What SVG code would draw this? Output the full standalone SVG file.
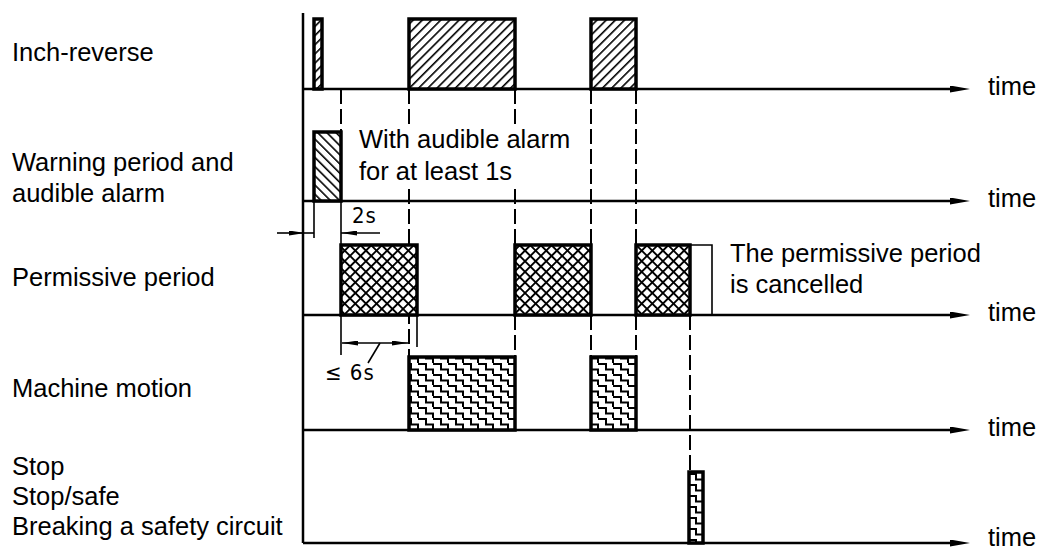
<svg xmlns="http://www.w3.org/2000/svg" width="1039" height="547" viewBox="0 0 1039 547">
<style>
.lbl{font-family:"Liberation Sans",Arial,sans-serif;font-size:25.5px;fill:#000}
.dimt{font-family:"Liberation Sans Narrow","DejaVu Sans Condensed","Liberation Sans",sans-serif;font-size:22px;fill:#000;letter-spacing:1px}
.axis{stroke:#000;stroke-width:2.5;fill:none}
.box{stroke:#000;stroke-width:3.5}
.dash{stroke:#000;stroke-width:2;stroke-dasharray:15 5;fill:none}
.thin{stroke:#000;stroke-width:1.6;fill:none}
</style>
<defs>
<pattern id="hatchF" patternUnits="userSpaceOnUse" width="6.5" height="6.5" patternTransform="rotate(45)">
<rect width="6.5" height="6.5" fill="#fff"/><rect x="0" y="0" width="1.6" height="6.5" fill="#000"/>
</pattern>
<pattern id="hatchB" patternUnits="userSpaceOnUse" width="6.5" height="6.5" patternTransform="rotate(-45)">
<rect width="6.5" height="6.5" fill="#fff"/><rect x="0" y="0" width="1.6" height="6.5" fill="#000"/>
</pattern>
<pattern id="cross" patternUnits="userSpaceOnUse" width="7.5" height="7.5" patternTransform="rotate(45)">
<rect width="7.5" height="7.5" fill="#fff"/><rect x="0" y="0" width="1.9" height="7.5" fill="#000"/><rect x="0" y="0" width="7.5" height="1.9" fill="#000"/>
</pattern>
<pattern id="stairs" patternUnits="userSpaceOnUse" width="15" height="11">
<rect width="15" height="11" fill="#fff"/>
<path d="M-2,1 H6 V6.5 H13 V12" stroke="#000" stroke-width="2" fill="none"/>
<path d="M13,1 H17" stroke="#000" stroke-width="2" fill="none"/>
</pattern>
<marker id="axarr" markerUnits="userSpaceOnUse" viewBox="0 0 20 7" markerWidth="20" markerHeight="7" refX="0" refY="3.5" orient="auto">
<path d="M0,0 L20,3.5 L0,7 z" fill="#000"/>
</marker>
<marker id="dimarr" markerUnits="userSpaceOnUse" viewBox="0 0 16 5" markerWidth="16" markerHeight="5" refX="16" refY="2.5" orient="auto-start-reverse">
<path d="M0,0 L16,2.5 L0,5 z" fill="#000"/>
</marker>
</defs>
<rect width="1039" height="547" fill="#fff"/>

<g id="labels">
<text class="lbl" x="12" y="61">Inch-reverse</text>
<text class="lbl" x="12" y="171">Warning period and</text>
<text class="lbl" x="12" y="202">audible alarm</text>
<text class="lbl" x="12" y="286">Permissive period</text>
<text class="lbl" x="12" y="397">Machine motion</text>
<text class="lbl" x="12" y="475">Stop</text>
<text class="lbl" x="12" y="505">Stop/safe</text>
<text class="lbl" x="12" y="535">Breaking a safety circuit</text>
</g>

<g id="axes">
<line class="axis" x1="303" y1="13" x2="303" y2="543" stroke-width="3"/>
<line class="axis" x1="303" y1="89" x2="950" y2="89" marker-end="url(#axarr)"/>
<line class="axis" x1="303" y1="201" x2="950" y2="201" marker-end="url(#axarr)"/>
<line class="axis" x1="303" y1="315" x2="950" y2="315" marker-end="url(#axarr)"/>
<line class="axis" x1="303" y1="430" x2="950" y2="430" marker-end="url(#axarr)"/>
<line class="axis" x1="303" y1="543" x2="950" y2="543" marker-end="url(#axarr)"/>
<text class="lbl" x="988" y="95">time</text>
<text class="lbl" x="988" y="207">time</text>
<text class="lbl" x="988" y="321">time</text>
<text class="lbl" x="988" y="436">time</text>
<text class="lbl" x="988" y="546">time</text>
</g>

<g id="connectors">
<line class="dash" x1="341" y1="89" x2="341" y2="132"/>
<line class="dash" x1="409" y1="89" x2="409" y2="357"/>
<line class="dash" x1="515" y1="89" x2="515" y2="245"/>
<line class="dash" x1="515" y1="315" x2="515" y2="357"/>
<line class="dash" x1="591" y1="89" x2="591" y2="245"/>
<line class="dash" x1="591" y1="315" x2="591" y2="357"/>
<line class="dash" x1="636" y1="89" x2="636" y2="245"/>
<line class="dash" x1="636" y1="315" x2="636" y2="357"/>
<line class="dash" x1="690" y1="315" x2="690" y2="472"/>
</g>

<g id="inch-reverse">
<rect class="box" x="314" y="19" width="8" height="70" fill="url(#hatchF)"/>
<rect class="box" x="409" y="19" width="106" height="70" fill="url(#hatchF)"/>
<rect class="box" x="591" y="19" width="45" height="70" fill="url(#hatchF)"/>
</g>

<g id="warning">
<rect class="box" x="314" y="132" width="27" height="69" fill="url(#hatchB)"/>
</g>

<g id="note-alarm">
<rect x="352" y="124" width="228" height="63" fill="#fff"/>
<text class="lbl" x="359" y="148">With audible alarm</text>
<text class="lbl" x="359" y="180">for at least 1s</text>
</g>

<g id="dim-2s">
<line class="thin" x1="314" y1="201" x2="314" y2="238"/>
<line class="thin" x1="341" y1="201" x2="341" y2="245"/>
<line class="thin" x1="277" y1="233" x2="305" y2="233" marker-end="url(#dimarr)"/>
<line class="thin" x1="305" y1="233" x2="314" y2="233"/>
<line class="thin" x1="380" y1="233" x2="341" y2="233" marker-end="url(#dimarr)"/>
<text class="dimt" x="352" y="223">2s</text>
</g>

<g id="permissive">
<rect class="box" x="341" y="245" width="76" height="70" fill="url(#cross)"/>
<rect class="box" x="515" y="245" width="76" height="70" fill="url(#cross)"/>
<rect class="box" x="636" y="245" width="54" height="70" fill="url(#cross)"/>
<polyline class="thin" points="690,245 712,245 712,315" stroke-width="2"/>
</g>

<g id="note-cancelled">
<text class="lbl" x="730" y="262">The permissive period</text>
<text class="lbl" x="730" y="293">is cancelled</text>
</g>

<g id="dim-6s">
<line class="thin" x1="341" y1="315" x2="341" y2="355"/>
<line class="thin" x1="417" y1="315" x2="417" y2="347"/>
<line class="thin" x1="342" y1="343" x2="408" y2="343" marker-start="url(#dimarr)" marker-end="url(#dimarr)"/>
<line class="thin" x1="380" y1="343" x2="368" y2="363"/>
<text class="dimt" x="325" y="380">≤ 6s</text>
</g>

<g id="machine-motion">
<rect class="box" x="409" y="357" width="106" height="73" fill="url(#stairs)"/>
<rect class="box" x="591" y="357" width="45" height="73" fill="url(#stairs)"/>
</g>

<g id="stop">
<rect class="box" x="689" y="472" width="14" height="71" fill="url(#stairs)"/>
</g>
</svg>
